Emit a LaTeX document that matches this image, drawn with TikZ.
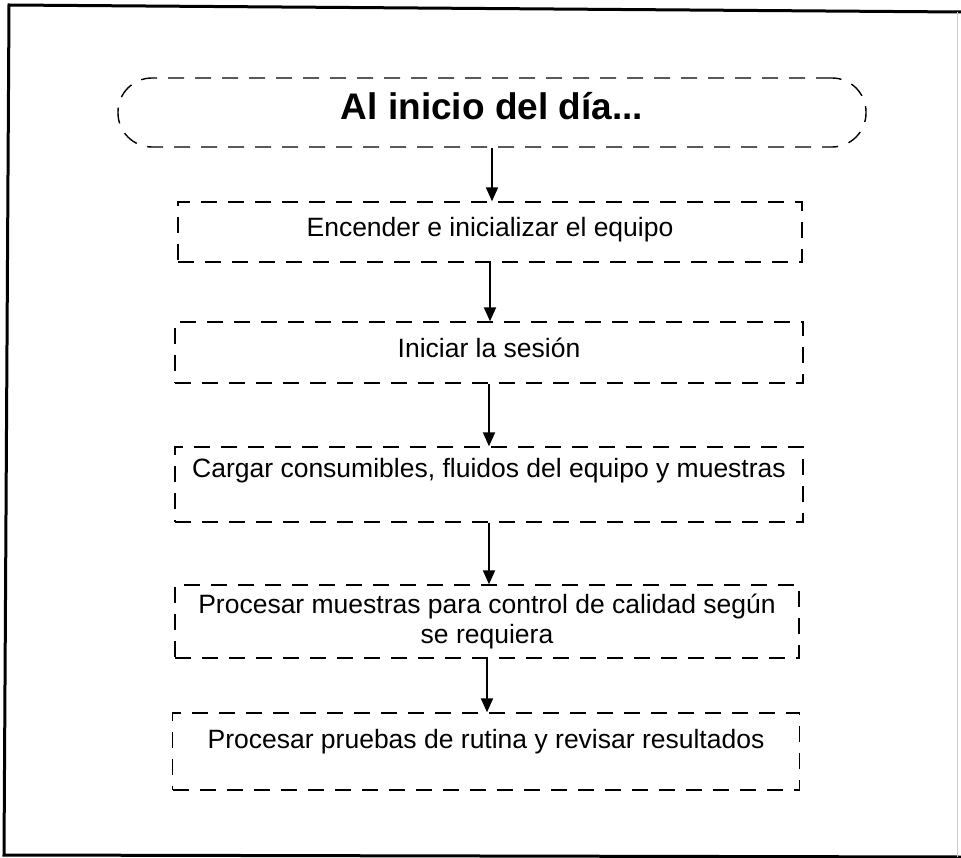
\documentclass[tikz,border=0pt]{standalone}
\usepackage{fontspec}
\setmainfont{Liberation Sans}
\usetikzlibrary{arrows.meta}
\begin{document}
\begin{tikzpicture}[x=1pt,y=-1pt,
  stepbox/.style={draw=black, line width=1.4pt, dash pattern=on 16pt off 11pt, inner sep=0pt, minimum width=627pt},
  titlebox/.style={draw=black, line width=1.4pt, dash pattern=on 16pt off 11pt, inner sep=0pt, rounded corners=34pt, minimum width=748pt, minimum height=69pt},
  lbl/.style={font=\fontsize{26.5}{30}\selectfont, align=center, inner sep=0pt},
  ttl/.style={font=\bfseries\fontsize{37}{44}\selectfont, inner sep=0pt},
  flow/.style={line width=2pt, -{Triangle[length=14pt,width=12pt]}},
  frameline/.style={line width=3pt, line join=miter}]
\useasboundingbox (0,0) rectangle (961,858);
% outer frame
\draw[frameline] (961,12) -- (9,5) -- (4,855) -- (961,857);
\draw[line width=1pt, black!20] (957,12) -- (957,857);
% boxes
\node[titlebox] (title) at (492,112.5) {};
\node[stepbox, minimum width=624pt, minimum height=60pt] (b1) at (490,232) {};
\node[stepbox, minimum width=628pt, minimum height=61pt] (b2) at (489,352.5) {};
\node[stepbox, minimum width=628pt, minimum height=75pt] (b3) at (489,484.5) {};
\node[stepbox, minimum width=624pt, minimum height=73pt] (b4) at (487,621.5) {};
\node[stepbox, minimum width=627pt, minimum height=77pt] (b5) at (486,751.5) {};
% texts
\node[ttl] (t0) at (492,106) {Al inicio del día...};
\node[lbl] (t1) at (490,230) {Encender e inicializar el equipo};
\node[lbl] (t2) at (489,348) {Iniciar la sesión};
\node[lbl] (t3) at (489,471) {Cargar consumibles, fluidos del equipo y muestras};
\node[lbl] (t4) at (487,621) {Procesar muestras para control de calidad según\\se requiera};
\node[lbl] (t5) at (486,742) {Procesar pruebas de rutina y revisar resultados};
% arrows
\draw[flow] (title.south) -- (title.south |- b1.north);
\draw[flow] (b1.south) -- (b1.south |- b2.north);
\draw[flow] (b2.south) -- (b2.south |- b3.north);
\draw[flow] (b3.south) -- (b3.south |- b4.north);
\draw[flow] (b4.south) -- (b4.south |- b5.north);
\end{tikzpicture}
\end{document}
